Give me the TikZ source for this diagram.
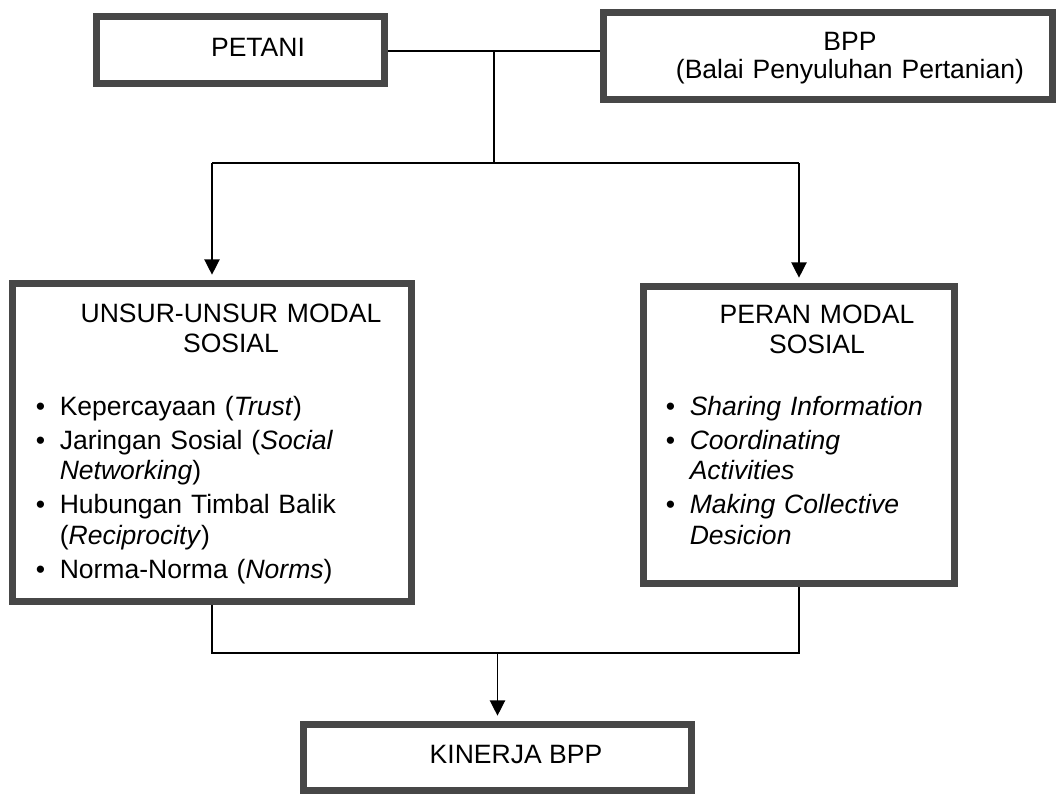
\documentclass[tikz,border=0pt]{standalone}
\usepackage{fontspec}
\setmainfont{Liberation Sans}
\usetikzlibrary{arrows.meta}
\definecolor{boxgray}{HTML}{474747}
\newcommand{\itm}{\makebox[18pt][l]{\textbullet}}
\newcommand{\cnt}{\hspace*{18pt}}

\begin{document}
\begin{tikzpicture}[x=7.5pt,y=7.5pt,
  box/.style={draw=boxgray,line width=5.25pt,inner sep=0pt},
  txt/.style={inner sep=0pt,anchor=base,font=\fontsize{19.9}{23}\selectfont},
  link/.style={black,line width=1pt},
  arr/.style={link,-{Triangle[length=11.5pt,width=11.5pt]},shorten >=4pt}]
\useasboundingbox (0,0) rectangle (105.7,-79.4);
\node [box,minimum width=216pt,minimum height=50.25pt] (petani) at (24.05,-5.0) {};
\node [box,minimum width=336.75pt,minimum height=65.25pt] (bpp) at (82.8,-5.6) {};
\node [box,minimum width=299.25pt,minimum height=238.5pt] (unsur) at (21.2,-44.25) {};
\node [box,minimum width=233.25pt,minimum height=222.75pt] (peran) at (79.9,-43.5) {};
\node [box,minimum width=291pt,minimum height=49.5pt] (kinerja) at (49.75,-75.75) {};
\node [txt] (petanitxt) at (25.8,-5.6) {PETANI};
\node [txt,text width=340pt,align=center,font=\fontsize{19.9}{21}\selectfont] (bpptxt) at (85.0,-5.0)
  {BPP\\(Balai Penyuluhan Pertanian)};
\node [txt,text width=300pt,align=center] (unsurtxt) at (23.1,-32.2) {UNSUR-UNSUR MODAL\\SOSIAL};
\node [txt,text width=230pt,align=center] (perantxt) at (81.7,-32.3) {PERAN MODAL\\SOSIAL};
\node [txt,anchor=base west,text width=280pt,align=left] (unsurlist) at (3.55,-41.5)
  {\itm Kepercayaan (\textit{Trust})\\[2.5pt]
   \itm Jaringan Sosial (\textit{Social}\\
   \cnt\textit{Networking})\\[2.5pt]
   \itm Hubungan Timbal Balik\\
   \cnt(\textit{Reciprocity})\\[2.5pt]
   \itm Norma-Norma (\textit{Norms})};
\node [txt,anchor=base west,text width=220pt,align=left] (peranlist) at (66.55,-41.5)
  {\itm\textit{Sharing Information}\\[2.5pt]
   \itm\textit{Coordinating}\\
   \cnt\textit{Activities}\\[2.5pt]
   \itm\textit{Making Collective}\\
   \cnt\textit{Desicion}};
\node [txt] (kinerjatxt) at (51.6,-76.3) {KINERJA BPP};
\coordinate (jtop) at (49.4,-5.1);
\coordinate (jmid) at (49.4,-16.3);
\coordinate (jbot) at (49.75,-65.3);
\draw [link] (petani.east |- jtop) -- (bpp.west |- jtop);
\draw [link] (jtop) -- (jmid);
\draw [link] (unsur.north |- jmid) -- (peran.north |- jmid);
\draw [arr] (unsur.north |- jmid) -- (unsur.north);
\draw [arr] (peran.north |- jmid) -- (peran.north);
\draw [link] (unsur.south) -- (unsur.south |- jbot) -- (peran.south |- jbot) -- (peran.south);
\draw [arr] (kinerja.north |- jbot) -- (kinerja.north);
\end{tikzpicture}
\end{document}
